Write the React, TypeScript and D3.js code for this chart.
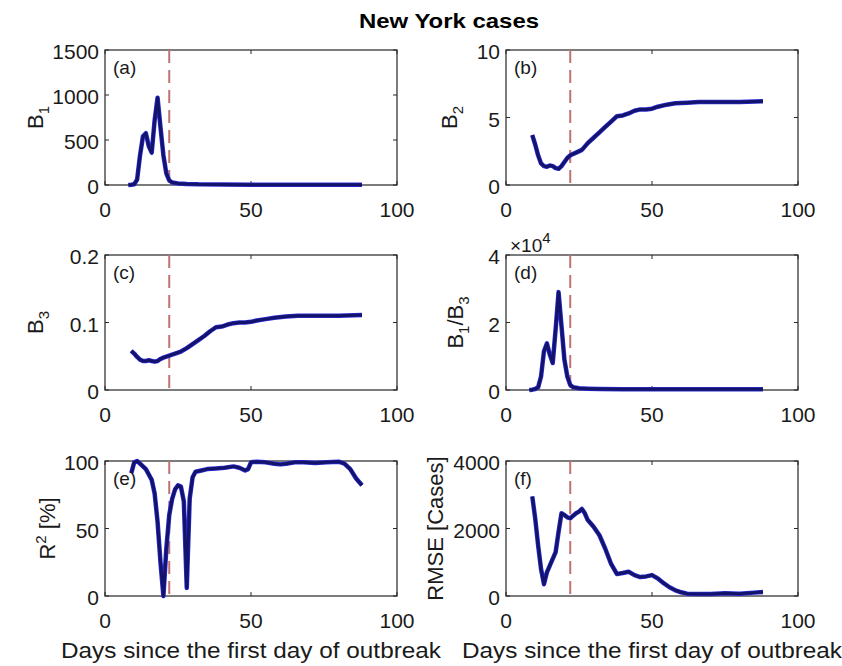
import { useEffect, useRef } from 'react';
import * as d3 from 'd3';

// values
const b1Days = [8, 9, 10, 11, 12, 13, 14, 15, 16, 17, 18, 19, 20, 21, 22, 23, 25, 28, 32, 40, 50, 60, 70, 80, 88];
const b1Values = [0, 3, 8, 60, 330, 540, 575, 430, 360, 720, 970, 640, 330, 130, 50, 28, 18, 12, 8, 6, 4, 3, 3, 3, 3];

const b2Days = [9, 10, 11, 12, 13, 14, 15, 16, 17, 18, 19, 20, 21, 22, 24, 26, 28, 30, 32, 34, 36, 38, 40, 42, 44, 46, 48, 50, 52, 55, 58, 62, 66, 70, 80, 88];
const b2Values = [3.7, 3.0, 2.2, 1.6, 1.4, 1.35, 1.45, 1.4, 1.25, 1.2, 1.4, 1.7, 2.0, 2.2, 2.4, 2.6, 3.1, 3.5, 3.9, 4.3, 4.7, 5.1, 5.15, 5.3, 5.5, 5.6, 5.6, 5.65, 5.8, 5.95, 6.05, 6.1, 6.15, 6.15, 6.15, 6.2];

const b3Days = [9, 10, 11, 12, 13, 14, 15, 16, 17, 18, 19, 20, 22, 24, 26, 28, 30, 32, 34, 36, 38, 40, 42, 44, 46, 48, 50, 52, 55, 58, 62, 66, 70, 80, 88];
const b3Values = [0.058, 0.054, 0.049, 0.045, 0.043, 0.043, 0.044, 0.043, 0.042, 0.043, 0.046, 0.048, 0.051, 0.054, 0.057, 0.062, 0.068, 0.074, 0.08, 0.087, 0.093, 0.094, 0.097, 0.099, 0.1, 0.1, 0.101, 0.103, 0.105, 0.107, 0.109, 0.11, 0.11, 0.11, 0.111];

const ratioDays = [8, 9, 10, 11, 12, 13, 14, 15, 16, 17, 18, 19, 20, 21, 22, 23, 25, 28, 32, 40, 50, 60, 70, 80, 88];
const ratioValues = [0, 0.01, 0.03, 0.08, 0.4, 1.15, 1.38, 1.05, 0.8, 1.8, 2.9, 1.9, 0.9, 0.4, 0.15, 0.08, 0.05, 0.04, 0.03, 0.02, 0.02, 0.02, 0.02, 0.02, 0.02];

const r2Days = [9, 10, 11, 12, 13, 14, 15, 16, 17, 18, 19, 20, 21, 22, 23, 24, 25, 26, 27, 28, 29, 30, 31, 33, 35, 38, 41, 44, 46, 48, 49, 50, 52, 55, 58, 60, 62, 65, 68, 72, 76, 80, 82, 84, 86, 88];
const r2Values = [91, 99, 100, 98, 96, 94, 90, 86, 76, 55, 25, 0, 35, 60, 72, 79, 82, 81, 70, 6, 72, 88, 92, 93, 94, 94.5, 95, 96, 95, 93, 94, 99, 99.5, 99, 98, 97.5, 98, 99, 99, 98.5, 99, 99.5, 98, 94, 87, 82];

const rmseDays = [9, 10, 11, 12, 13, 14, 15, 16, 17, 18, 19, 20, 21, 22, 23, 24, 25, 26, 27, 28, 30, 32, 34, 36, 38, 40, 42, 44, 46, 48, 50, 52, 54, 56, 58, 60, 62, 66, 70, 75, 80, 85, 88];
const rmseValues = [2950, 2300, 1500, 800, 350, 700, 900, 1100, 1300, 1900, 2450, 2400, 2330, 2300, 2380, 2450, 2500, 2580, 2450, 2250, 2050, 1800, 1400, 950, 650, 680, 720, 620, 560, 580, 620, 520, 380, 260, 170, 110, 70, 60, 60, 80, 70, 100, 120];

const xTicks = [0, 50, 100];
const b1Ticks = [0, 500, 1000, 1500];
const b2Ticks = [0, 5, 10];
const b3Ticks = [0, 0.1, 0.2];
const ratioTicks = [0, 2, 4];
const r2Ticks = [0, 50, 100];
const rmseTicks = [0, 2000, 4000];
const outbreakDay = 22;

const FONT = '"Liberation Sans", Arial, Helvetica, sans-serif';

const App = () => {
    const ref = useRef<SVGSVGElement>(null);
    const width = 842,
        height = 666;

    useEffect(() => {
        const svg = d3.select(ref.current);
        svg.selectAll('*').remove();

        const colLeft = [105, 506];
        const rowTop = [50, 255, 461];
        const plotW = 292,
            plotH = 135;

        // label parts: s = 0 normal, 1 subscript, -1 superscript
        const panels = [
            { tag: '(a)', days: b1Days, values: b1Values, ticks: b1Ticks, col: 0, row: 0, labelX: 43, label: [{ t: 'B', s: 0 }, { t: '1', s: 1 }] },
            { tag: '(b)', days: b2Days, values: b2Values, ticks: b2Ticks, col: 1, row: 0, labelX: 457, label: [{ t: 'B', s: 0 }, { t: '2', s: 1 }] },
            { tag: '(c)', days: b3Days, values: b3Values, ticks: b3Ticks, col: 0, row: 1, labelX: 43, label: [{ t: 'B', s: 0 }, { t: '3', s: 1 }] },
            { tag: '(d)', days: ratioDays, values: ratioValues, ticks: ratioTicks, col: 1, row: 1, labelX: 463, label: [{ t: 'B', s: 0 }, { t: '1', s: 1 }, { t: '/B', s: 0 }, { t: '3', s: 1 }] },
            { tag: '(e)', days: r2Days, values: r2Values, ticks: r2Ticks, col: 0, row: 2, labelX: 55, label: [{ t: 'R', s: 0 }, { t: '2', s: -1 }, { t: ' [%]', s: 0 }] },
            { tag: '(f)', days: rmseDays, values: rmseValues, ticks: rmseTicks, col: 1, row: 2, labelX: 443, label: [{ t: 'RMSE [Cases]', s: 0 }] },
        ];

        // Title
        svg.append('text')
            .attr('x', 449)
            .attr('y', 28)
            .attr('text-anchor', 'middle')
            .attr('font-family', FONT)
            .attr('font-size', 21)
            .attr('font-weight', 'bold')
            .attr('textLength', 180)
            .attr('lengthAdjust', 'spacingAndGlyphs')
            .text('New York cases');

        panels.forEach((p) => {
            const left = colLeft[p.col];
            const top = rowTop[p.row];
            const x = d3.scaleLinear().domain([0, 100]).range([left, left + plotW]);
            const y = d3
                .scaleLinear()
                .domain([0, p.ticks[p.ticks.length - 1]])
                .range([top + plotH, top]);
            const g = svg.append('g');

            // axes box
            g.append('rect')
                .attr('x', left)
                .attr('y', top)
                .attr('width', plotW)
                .attr('height', plotH)
                .attr('fill', 'white')
                .attr('stroke', '#262626')
                .attr('stroke-width', 1.2);

            // inward ticks
            xTicks.forEach((t) => {
                g.append('line').attr('x1', x(t)).attr('x2', x(t)).attr('y1', top + plotH).attr('y2', top + plotH - 4).attr('stroke', '#262626');
                g.append('line').attr('x1', x(t)).attr('x2', x(t)).attr('y1', top).attr('y2', top + 4).attr('stroke', '#262626');
                g.append('text')
                    .attr('x', x(t))
                    .attr('y', top + plotH + 32)
                    .attr('text-anchor', 'middle')
                    .attr('font-family', FONT)
                    .attr('font-size', 21)
                    .attr('fill', '#1a1a1a')
                    .text(t);
            });
            p.ticks.forEach((t) => {
                g.append('line').attr('x1', left).attr('x2', left + 4).attr('y1', y(t)).attr('y2', y(t)).attr('stroke', '#262626');
                g.append('line').attr('x1', left + plotW).attr('x2', left + plotW - 4).attr('y1', y(t)).attr('y2', y(t)).attr('stroke', '#262626');
                g.append('text')
                    .attr('x', left - 6)
                    .attr('y', y(t) + 9)
                    .attr('text-anchor', 'end')
                    .attr('font-family', FONT)
                    .attr('font-size', 21)
                    .attr('fill', '#1a1a1a')
                    .text(String(t));
            });

            // outbreak marker
            g.append('line')
                .attr('x1', x(outbreakDay))
                .attr('x2', x(outbreakDay))
                .attr('y1', top)
                .attr('y2', top + plotH)
                .attr('stroke', '#c07272')
                .attr('stroke-width', 2)
                .attr('stroke-dasharray', '13,7');

            const pts = p.days.map((d, i) => [d, p.values[i]] as [number, number]);
            const line = d3
                .line<[number, number]>()
                .x((d) => x(d[0]))
                .y((d) => y(d[1]));

            g.append('path').attr('d', line(pts)).attr('fill', 'none').attr('stroke', '#2b2bd6').attr('stroke-width', 4.5).attr('stroke-linejoin', 'round');
            g.append('path').attr('d', line(pts)).attr('fill', 'none').attr('stroke', '#13136a').attr('stroke-width', 3).attr('stroke-linejoin', 'round');

            // panel tag
            g.append('text')
                .attr('x', left + 8)
                .attr('y', top + 24)
                .attr('font-family', FONT)
                .attr('font-size', 19)
                .attr('fill', '#1a1a1a')
                .text(p.tag);

            // y label
            const yl = g
                .append('text')
                .attr('transform', `translate(${p.labelX},${top + plotH / 2}) rotate(-90)`)
                .attr('text-anchor', 'middle')
                .attr('font-family', FONT)
                .attr('font-size', 22)
                .attr('fill', '#1a1a1a');
            let shift = 0;
            p.label.forEach((part) => {
                const target = part.s === 1 ? 6 : part.s === -1 ? -9 : 0;
                yl.append('tspan')
                    .attr('dy', target - shift)
                    .attr('font-size', part.s === 0 ? 22 : 15)
                    .text(part.t);
                shift = target;
            });

            if (p.tag === '(d)') {
                const ex = g.append('text').attr('x', left + 4).attr('y', top - 3).attr('font-family', FONT).attr('font-size', 19).attr('fill', '#1a1a1a');
                ex.append('tspan').text('\u00d710');
                ex.append('tspan').attr('dy', -9).attr('font-size', 15).text('4');
            }
        });

        // x labels
        [0, 1].forEach((c) => {
            svg.append('text')
                .attr('x', colLeft[c] + plotW / 2)
                .attr('y', 658)
                .attr('text-anchor', 'middle')
                .attr('font-family', FONT)
                .attr('font-size', 22)
                .attr('fill', '#1a1a1a')
                .attr('textLength', 380)
                .attr('lengthAdjust', 'spacingAndGlyphs')
                .text('Days since the first day of outbreak');
        });
    }, []);

    return <svg ref={ref} width={width} height={height} style={{ position: 'absolute', left: 0, top: 0, background: 'white' }} />;
};

export default App;
